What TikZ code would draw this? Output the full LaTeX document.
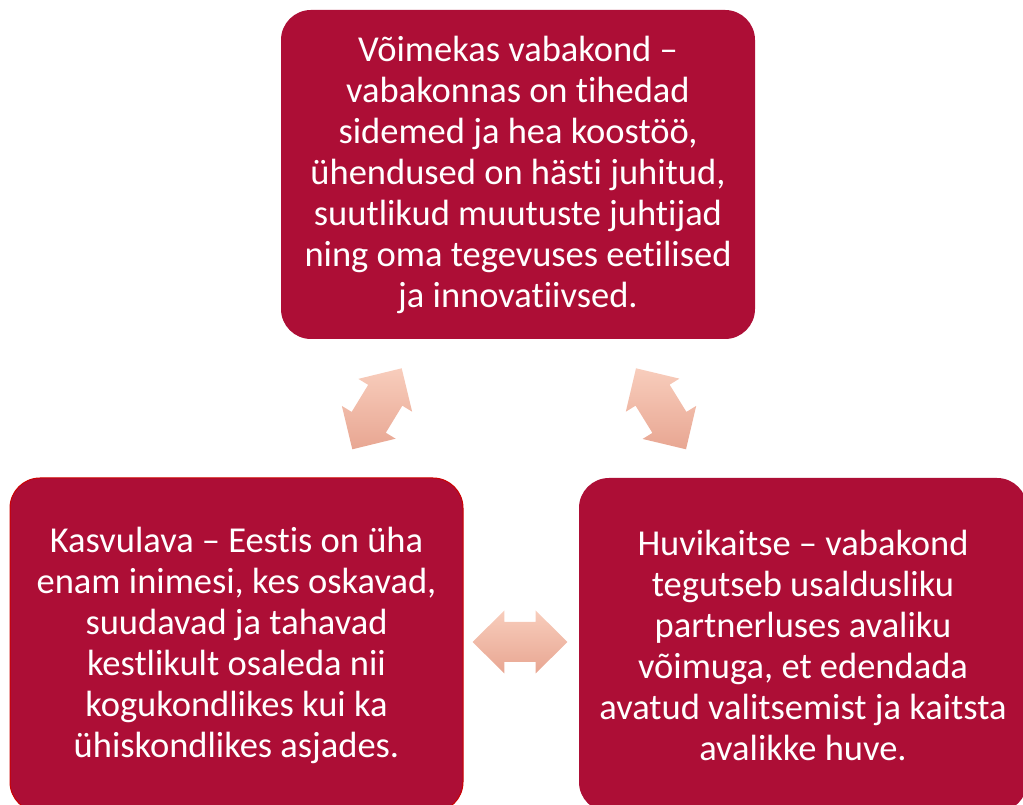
\documentclass[tikz,border=0pt]{standalone}
\usepackage{fontspec}
\setmainfont{Carlito}[Ligatures=NoCommon]
\usepackage{xcolor}
\usepackage{tikz}
\usetikzlibrary{calc}

\definecolor{boxred}{RGB}{173,14,54}
\definecolor{edgered}{RGB}{204,0,0}
\definecolor{peachtop}{RGB}{248,205,188}
\definecolor{peachbot}{RGB}{232,166,146}

% double block arrow between two named coordinates
\newcommand{\dblarrow}[2]{%
  \shade[link] (#1)
    -- ($(#1)!31.6pt!(#2)!31.5pt!90:(#2)$)
    -- ($(#1)!31.6pt!(#2)!20pt!90:(#2)$)
    -- ($(#2)!31.6pt!(#1)!20pt!-90:(#1)$)
    -- ($(#2)!31.6pt!(#1)!31.5pt!-90:(#1)$)
    -- (#2)
    -- ($(#2)!31.6pt!(#1)!31.5pt!90:(#1)$)
    -- ($(#2)!31.6pt!(#1)!20pt!90:(#1)$)
    -- ($(#1)!31.6pt!(#2)!20pt!-90:(#2)$)
    -- ($(#1)!31.6pt!(#2)!31.5pt!-90:(#2)$)
    -- cycle;}

\begin{document}
\begin{tikzpicture}[x=1pt, y=1pt,
    goal/.style={fill=boxred, rounded corners=30pt, text=white, align=center,
      font=\fontsize{36.5}{41}\selectfont, inner sep=0pt},
    edged/.style={draw=edgered, line width=1pt},
    link/.style={top color=peachtop, bottom color=peachbot},
  ]
    \useasboundingbox (0,0) rectangle (1023,805);
    \clip (0,0) rectangle (1023,805);
    % ── Goal boxes ──
    \node[goal, minimum width=474pt, minimum height=329pt] (voime) at (518,630.5)
      {Võimekas vabakond –\\vabakonnas on tihedad\\sidemed ja hea koostöö,\\ühendused on hästi juhitud,\\suutlikud muutuste juhtijad\\ning oma tegevuses eetilised\\ja innovatiivsed.};
    \node[goal, edged, minimum width=453pt, minimum height=334pt] (kasvu) at (236.5,160)
      {Kasvulava – Eestis on üha\\enam inimesi, kes oskavad,\\suudavad ja tahavad\\kestlikult osaleda nii\\kogukondlikes kui ka\\ühiskondlikes asjades.};
    \node[goal, minimum width=448pt, minimum height=334pt] (huvi) at (803,160)
      {Huvikaitse – vabakond\\tegutseb usaldusliku\\partnerluses avaliku\\võimuga, et edendada\\avatud valitsemist ja kaitsta\\avalikke huve.};
    % ── Links ──
    \coordinate (vk-a) at (352.3,355.7);
    \coordinate (vk-b) at (401.7,436.7);
    \coordinate (vh-a) at (636,436.7);
    \coordinate (vh-b) at (686,355.7);
    \coordinate (kh-a) at (472.7,163);
    \coordinate (kh-b) at (567.3,163);
    \dblarrow{vk-a}{vk-b}
    \dblarrow{vh-a}{vh-b}
    \dblarrow{kh-a}{kh-b}
\end{tikzpicture}
\end{document}
